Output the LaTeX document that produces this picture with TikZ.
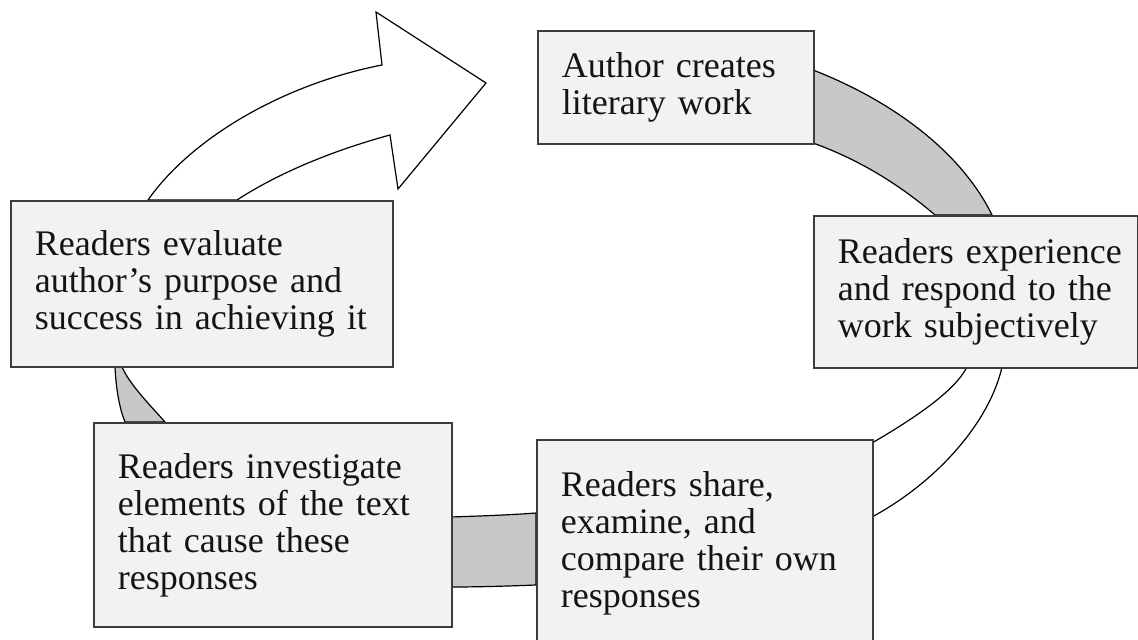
\documentclass[tikz,border=0pt]{standalone}
\usepackage{fontspec}
\setmainfont{Liberation Serif}
\definecolor{boxfill}{HTML}{F2F2F2}
\definecolor{boxline}{HTML}{3C3C3C}
\definecolor{bandgrey}{HTML}{C8C8C8}
\definecolor{inktext}{HTML}{141414}
\begin{document}
\begin{tikzpicture}[x=0.5pt,y=-0.5pt,
  stagebox/.style={draw=boxline, fill=boxfill, line width=0.9pt, rectangle,
    anchor=north west, align=left, inner xsep=12pt, inner ysep=0pt,
    font=\fontsize{18}{18.5}\selectfont, text=inktext},
  greyband/.style={fill=bandgrey, draw=black, line width=0.6pt, line join=round},
  whiteband/.style={fill=white, draw=black, line width=0.6pt, line join=miter}]
\useasboundingbox (0,0) rectangle (1138,640);
\fill[white] (0,0) rectangle (1138,640);

% ---- ring segments (behind the boxes) ----
% grey: author -> experience
\path[greyband] (813,70) .. controls (890,100) and (960,150) .. (992,215)
  -- (935,215) .. controls (900,185) and (860,160) .. (813,143) -- cycle;
% white: experience -> share
\path[whiteband] (1002,367) .. controls (990,420) and (940,480) .. (872,517)
  -- (872,443) .. controls (920,415) and (955,390) .. (967,367) -- cycle;
% grey: share -> investigate
\path[greyband] (536,513) .. controls (510,515) and (480,516) .. (451,517)
  -- (451,587) .. controls (480,587) and (510,586) .. (536,585) -- cycle;
% grey: investigate -> evaluate
\path[greyband] (125,422) .. controls (120,410) and (116,390) .. (115,367)
  -- (122,367) .. controls (130,385) and (150,405) .. (165,422) -- cycle;
% white arrow: evaluate -> author
\path[whiteband] (148,200) .. controls (190,140) and (280,85) .. (382,65)
  -- (376,12) -- (486,83) -- (398,189) -- (390,135)
  .. controls (335,150) and (280,172) .. (237,200) -- cycle;

% ---- boxes ----
\node[stagebox, text width=114pt, minimum height=56.5pt] (author) at (537,30)
  {Author creates\\literary work};
\node[stagebox, text width=138pt, minimum height=76pt] (experience) at (813,215)
  {\mbox{Readers experience}\\and respond to the\\work subjectively};
\node[stagebox, text width=144pt, minimum height=103pt] (share) at (536,439)
  {Readers share,\\examine, and\\compare their own\\responses};
\node[stagebox, text width=155pt, minimum height=102pt] (investigate) at (93,422)
  {Readers investigate\\elements of the text\\that cause these\\responses};
\node[stagebox, text width=167pt, minimum height=83pt] (evaluate) at (10,200)
  {Readers evaluate\\author’s purpose and\\success in achieving it};
\end{tikzpicture}
\end{document}
